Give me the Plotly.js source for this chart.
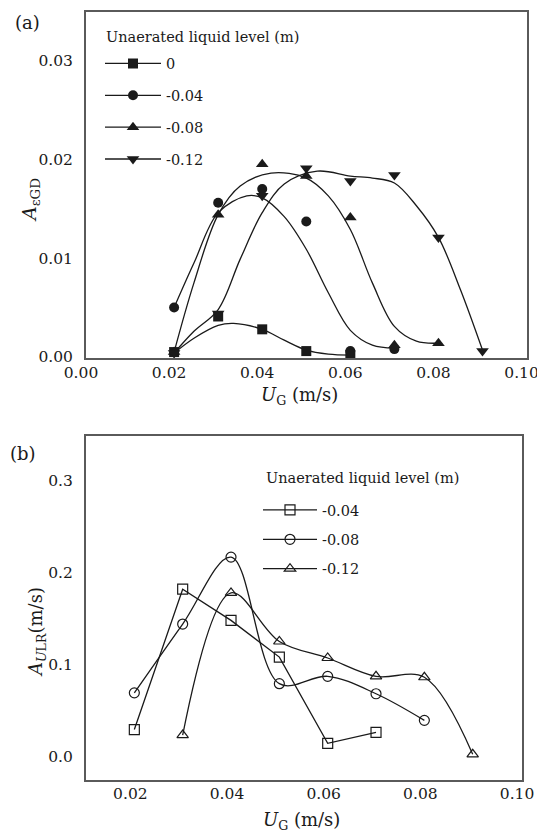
<!DOCTYPE html>
<html>
<head>
<meta charset="utf-8">
<script src="https://cdn.plot.ly/plotly-3.0.1.min.js"></script>
<style>
  html, body { margin: 0; padding: 0; background: #ffffff; }
  #chart { width: 537px; height: 832px; }
</style>
</head>
<body>
<div id="chart"></div>
<script>
// ---- Panel (a): amplitude of gas holdup fluctuation, A_εGD ----
const levelsA = ['0', '-0.04', '-0.08', '-0.12'];

// measured points
const ugA0  = [0.02, 0.03, 0.04, 0.05, 0.06];
const epsA0 = [0.0006, 0.0042, 0.0029, 0.0007, 0.0003];
const ugA1  = [0.02, 0.03, 0.04, 0.05, 0.06, 0.07];
const epsA1 = [0.0051, 0.0157, 0.0171, 0.0138, 0.0007, 0.0009];
const ugA2  = [0.02, 0.03, 0.04, 0.05, 0.06, 0.07, 0.08];
const epsA2 = [0.0006, 0.0145, 0.0196, 0.0184, 0.0142, 0.0013, 0.0015];
const ugA3  = [0.02, 0.03, 0.04, 0.05, 0.06, 0.07, 0.08, 0.09];
const epsA3 = [0.0005, 0.0045, 0.0164, 0.0192, 0.0179, 0.0185, 0.0122, 0.0007];

// fitted trend curves
const fitXA0 = [0.02, 0.0245, 0.03, 0.0335, 0.04, 0.045, 0.05, 0.055, 0.06];
const fitYA0 = [0.0005, 0.0020, 0.0033, 0.0035, 0.0029, 0.0018, 0.0008, 0.0004, 0.0003];
const fitXA1 = [0.02, 0.0245, 0.03, 0.0365, 0.04, 0.045, 0.05, 0.055, 0.06, 0.065, 0.07];
const fitYA1 = [0.0051, 0.0096, 0.0147, 0.0164, 0.0162, 0.0143, 0.0110, 0.0066, 0.0028, 0.0013, 0.0010];
const fitXA2 = [0.02, 0.0245, 0.03, 0.035, 0.042, 0.05, 0.055, 0.06, 0.065, 0.07, 0.075, 0.08];
const fitYA2 = [0.0006, 0.0076, 0.0145, 0.0174, 0.0187, 0.0182, 0.0164, 0.0130, 0.0076, 0.0032, 0.0017, 0.0015];
const fitXA3 = [0.02, 0.0245, 0.03, 0.035, 0.04, 0.045, 0.0525, 0.06, 0.065, 0.07, 0.075, 0.08, 0.085, 0.09];
const fitYA3 = [0.0005, 0.0027, 0.0049, 0.0100, 0.0147, 0.0176, 0.0189, 0.0184, 0.0182, 0.0177, 0.0154, 0.0122, 0.0069, 0.0008];

// ---- Panel (b): amplitude of liquid circulation velocity, A_ULR (m/s) ----
const levelsB = ['-0.04', '-0.08', '-0.12'];
const ugB0 = [0.02, 0.03, 0.04, 0.05, 0.06, 0.07];
const uB0  = [0.030, 0.183, 0.149, 0.109, 0.015, 0.027];
const ugB1 = [0.02, 0.03, 0.04, 0.05, 0.06, 0.07, 0.08];
const uB1  = [0.070, 0.145, 0.218, 0.080, 0.088, 0.069, 0.040];
const ugB2 = [0.03, 0.04, 0.05, 0.06, 0.07, 0.08, 0.09];
const uB2  = [0.024, 0.179, 0.126, 0.108, 0.088, 0.087, 0.003];

const INK = '#1a1a1a';
const FRAME = '#5a5a5a';
const SERIF = 'DejaVu Serif';

const symbolsA = ['square', 'circle', 'triangle-up', 'triangle-down'];
const symbolsB = ['square-open', 'circle-open', 'triangle-up-open'];

const traces = [];

const ptsA = [[ugA0, epsA0], [ugA1, epsA1], [ugA2, epsA2], [ugA3, epsA3]];
const fitsA = [[fitXA0, fitYA0], [fitXA1, fitYA1], [fitXA2, fitYA2], [fitXA3, fitYA3]];

fitsA.forEach(function (f) {
  traces.push({
    x: f[0], y: f[1], xaxis: 'x', yaxis: 'y', type: 'scatter', mode: 'lines',
    line: { color: INK, width: 1.3, shape: 'spline', smoothing: 1 },
    showlegend: false, hoverinfo: 'skip'
  });
});
ptsA.forEach(function (p, i) {
  traces.push({
    x: p[0], y: p[1], xaxis: 'x', yaxis: 'y', type: 'scatter', mode: 'markers',
    marker: { symbol: symbolsA[i], size: i >= 2 ? 11 : 10, color: INK },
    showlegend: false
  });
});
// legend entries for panel (a)
levelsA.forEach(function (lv, i) {
  traces.push({
    x: [null], y: [null], xaxis: 'x', yaxis: 'y', type: 'scatter', mode: 'lines+markers',
    name: lv, legend: 'legend', legendgroup: 'a' + i,
    line: { color: INK, width: 1.3 },
    marker: { symbol: symbolsA[i], size: i >= 2 ? 11 : 10, color: INK }
  });
});

const ptsB = [[ugB0, uB0], [ugB1, uB1], [ugB2, uB2]];
const shapesB = ['linear', 'spline', 'spline'];
ptsB.forEach(function (p, i) {
  traces.push({
    x: p[0], y: p[1], xaxis: 'x2', yaxis: 'y2', type: 'scatter', mode: 'lines+markers',
    name: levelsB[i], legend: 'legend2', legendgroup: 'b' + i,
    line: { color: INK, width: 1.3, shape: shapesB[i], smoothing: 1 },
    marker: { symbol: symbolsB[i], size: 10, color: INK, line: { width: 1.2, color: INK } }
  });
});

function axisBase(extra) {
  const base = {
    showgrid: false, zeroline: false, showline: true, mirror: true,
    linecolor: FRAME, linewidth: 2, ticks: '',
    tickfont: { family: SERIF, size: 15.5, color: INK },
    ticklabeloverflow: 'allow',
    fixedrange: true
  };
  return Object.assign(base, extra);
}

const W = 537, H = 832;
const px = function (v) { return v / W; };
const py = function (v) { return 1 - v / H; };

const legendFont = { family: SERIF, size: 14.5, color: INK };

function note(text, x, y, size, angle, xanchor) {
  return {
    text: text, xref: 'paper', yref: 'paper', x: px(x), y: py(y),
    xanchor: xanchor || 'center', yanchor: 'middle', textangle: angle || 0, showarrow: false,
    font: { family: SERIF, size: size, color: INK }
  };
}

const layout = {
  width: W, height: H,
  margin: { l: 0, r: 0, t: 0, b: 0 },
  paper_bgcolor: '#ffffff', plot_bgcolor: '#ffffff',
  showlegend: true,
  xaxis: axisBase({ domain: [px(86), px(527)], range: [0, 0.1001], tickvals: [0, 0.02, 0.04, 0.06, 0.08, 0.10],
    tickformat: '.2f', anchor: 'y', ticklabelstandoff: -1, ticklabelshift: -5 }),
  yaxis: axisBase({ domain: [py(358), py(12)], range: [0, 0.035], tickvals: [0, 0.01, 0.02, 0.03],
    tickformat: '.2f', anchor: 'x', ticklabelstandoff: 8, ticklabelshift: -1 }),
  xaxis2: axisBase({ domain: [px(86), px(522)], range: [0.01, 0.1002], tickvals: [0.02, 0.04, 0.06, 0.08, 0.10],
    tickformat: '.2f', anchor: 'y2', ticklabelstandoff: -2, ticklabelshift: -4 }),
  yaxis2: axisBase({ domain: [py(780), py(436)], range: [-0.025, 0.35], tickvals: [0, 0.1, 0.2, 0.3],
    tickformat: '.1f', anchor: 'x2', ticklabelstandoff: 8, ticklabelshift: -1 }),
  legend: {
    x: px(100), y: py(47.5), xanchor: 'left', yanchor: 'top',
    bgcolor: 'rgba(0,0,0,0)', borderwidth: 0,
    font: legendFont, tracegroupgap: 10, itemwidth: 56
  },
  legend2: {
    x: px(258), y: py(494), xanchor: 'left', yanchor: 'top',
    bgcolor: 'rgba(0,0,0,0)', borderwidth: 0,
    font: legendFont, tracegroupgap: 7.5, itemwidth: 54
  },
  annotations: [
    note('(a)', 27, 22, 18),
    note('(b)', 23, 453, 18),
    note('<i>U</i><sub>G</sub> (m/s)', 299, 396, 18),
    note('<i>U</i><sub>G</sub> (m/s)', 301, 821, 18),
    note('<i>A</i><sub>εGD</sub>', 30, 200, 19, -90),
    note('<i>A</i><sub><i>U</i>LR</sub>(m/s)', 37, 632, 18, -90),
    note('Unaerated liquid level (m)', 104, 37, 14.5, 0, 'left'),
    note('Unaerated liquid level (m)', 264, 478, 14.5, 0, 'left')
  ]
};

Plotly.newPlot('chart', traces, layout, { staticPlot: true, displayModeBar: false });
</script>
</body>
</html>
